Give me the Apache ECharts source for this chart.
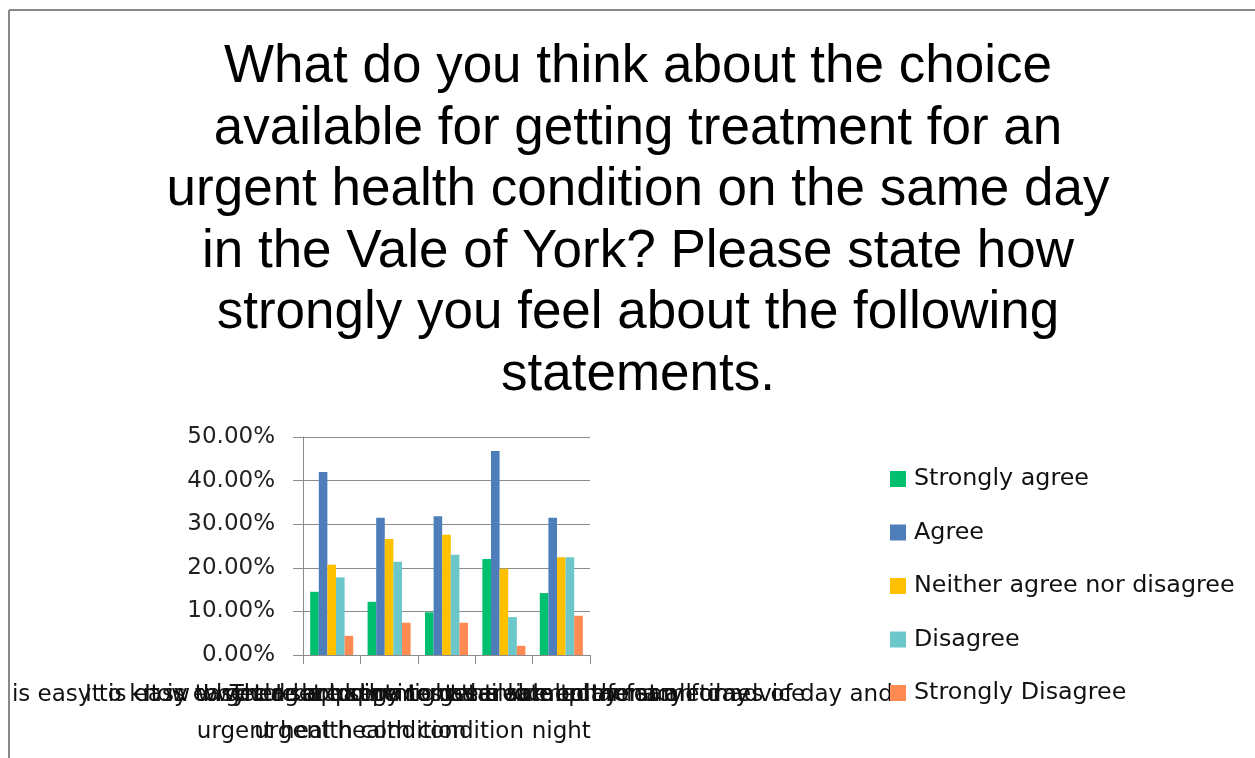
<!DOCTYPE html>
<html>
<head>
<meta charset="utf-8">
<script src="https://cdn.jsdelivr.net/npm/echarts@6/dist/echarts.min.js"></script>
<style>html,body{margin:0;padding:0;background:#fff;}#c{width:1255px;height:758px;}</style>
</head>
<body>
<div id="c"></div>
<script>
var titleText = "What do you think about the choice\navailable for getting treatment for an\nurgent health condition on the same day\nin the Vale of York? Please state how\nstrongly you feel about the following\nstatements.";
var categories = [
  "It is easy to know where I should go to get treatment for an\nurgent health condition",
  "It is easy to get an appointment the same day for an\nurgent health condition",
  "It is easy to get to the right service on the same day",
  "I would be happy to use a local pharmacy for advice",
  "There are services available to me at all times of day and\nnight"
];
var seriesNames = ["Strongly agree", "Agree", "Neither agree nor disagree", "Disagree", "Strongly Disagree"];
var stronglyAgree = [14.5, 12.2, 9.8, 22.0, 14.2];
var agree = [42.0, 31.5, 31.8, 46.8, 31.5];
var neither = [20.7, 26.6, 27.6, 19.8, 22.4];
var disagree = [17.8, 21.4, 23.0, 8.7, 22.4];
var stronglyDisagree = [4.4, 7.4, 7.4, 2.1, 9.0];
var yTicks = {min: 0, max: 50, interval: 10};
var colors = ['#00BF6F', '#4E7EBA', '#FFC000', '#6CC7CB', '#FF8B52'];

var dataSets = [stronglyAgree, agree, neither, disagree, stronglyDisagree];
var chart = echarts.init(document.getElementById('c'), null, {renderer: 'canvas'});
var fontUI = '"DejaVu Sans", sans-serif';
var series = seriesNames.map(function (n, i) {
  return {
    name: n, type: 'bar', data: dataSets[i],
    itemStyle: {color: colors[i]},
    barGap: '0%', barCategoryGap: '25%'
  };
});
chart.setOption({
  animation: false,
  color: colors,
  title: {
    text: titleText, left: 633, top: 32, textAlign: 'center',
    textStyle: {fontFamily: '"Liberation Sans", Arial, sans-serif', fontSize: 53, lineHeight: 61.5, fontWeight: 'normal', color: '#000'}
  },
  legend: {
    orient: 'vertical', left: 890, top: 467, padding: 0,
    itemWidth: 16, itemHeight: 16, itemGap: 29.5,
    icon: 'rect',
    textStyle: {fontFamily: fontUI, fontSize: 23.8, lineHeight: 23, color: '#111', padding: [0, 0, 0, 3]},
    data: seriesNames
  },
  grid: {left: 303, right: 665, top: 437, bottom: 103, containLabel: false, outerBoundsMode: 'none'},
  xAxis: {
    type: 'category', data: categories,
    axisLine: {lineStyle: {color: '#8C8C8C', width: 1}},
    axisTick: {show: true, length: 9, alignWithLabel: false, lineStyle: {color: '#8C8C8C'}},
    axisLabel: {interval: 0, margin: 22, fontFamily: fontUI, fontSize: 23, lineHeight: 37, color: '#111', overflow: 'none', hideOverlap: false}
  },
  yAxis: {
    type: 'value', min: yTicks.min, max: yTicks.max, interval: yTicks.interval,
    axisLine: {show: true, lineStyle: {color: '#8C8C8C'}},
    axisTick: {show: true, length: 10, lineStyle: {color: '#8C8C8C'}},
    splitLine: {lineStyle: {color: '#8C8C8C'}},
    axisLabel: {margin: 28, fontFamily: fontUI, fontSize: 23, color: '#222', formatter: function (v) { return v.toFixed(2) + '%'; }}
  },
  series: series,
  graphic: [
    {type: 'rect', z: 100, shape: {x: 0, y: 0, width: 8, height: 758}, style: {fill: '#fff'}},
    {type: 'line', z: 101, shape: {x1: 9, y1: 10, x2: 1255, y2: 10}, style: {stroke: '#888', lineWidth: 2}},
    {type: 'line', z: 101, shape: {x1: 9, y1: 10, x2: 9, y2: 758}, style: {stroke: '#888', lineWidth: 2}}
  ]
});
</script>
</body>
</html>
